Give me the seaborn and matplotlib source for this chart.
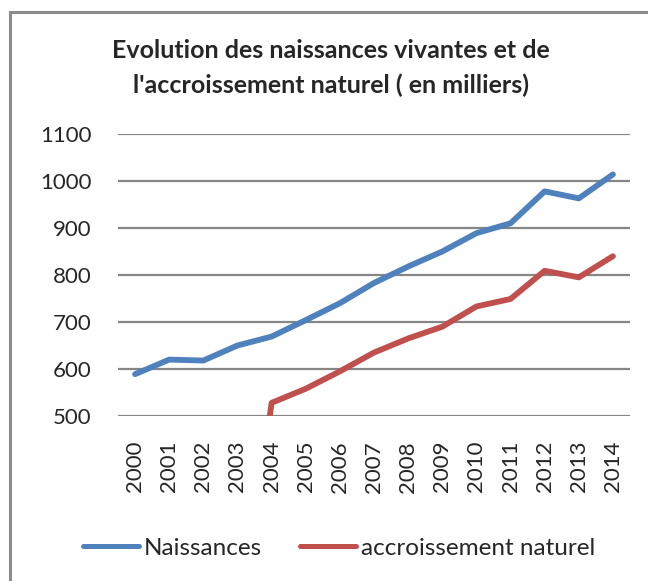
import matplotlib
matplotlib.use("Agg")
import matplotlib.pyplot as plt
import seaborn as sns
import pandas as pd
from matplotlib.patches import Rectangle

years = [str(y) for y in range(2000, 2015)]
naissances = [589, 620, 618, 650, 669, 704, 740, 783, 818, 850, 889, 910, 978, 963, 1014]
accroissement = [0, 0, 0, 0, 528, 558, 595, 635, 665, 690, 733, 749, 809, 795, 840]
series_names = ["Naissances", "accroissement naturel"]
yticks = [500, 600, 700, 800, 900, 1000, 1100]
title = "Evolution des naissances vivantes et de\nl'accroissement naturel ( en milliers)"

df = pd.DataFrame({
    "annee": years * 2,
    "valeur": naissances + accroissement,
    "serie": [series_names[0]] * len(years) + [series_names[1]] * len(years),
})

sns.set_theme(style="white")
plt.rcParams["font.family"] = ["Lato", "DejaVu Sans"]

fig = plt.figure(figsize=(6.48, 5.81), dpi=100)
ax = fig.add_axes([118 / 648, 1 - 416 / 581, 512 / 648, 282 / 581])

sns.lineplot(data=df, x="annee", y="valeur", hue="serie", sort=False,
             palette=["#4F81BD", "#C0504D"], linewidth=4.2, ax=ax, legend=True)

ax.set_ylim(500, 1100)
ax.set_xlim(-0.5, len(years) - 0.5)
ax.set_yticks(yticks)
ax.set_yticklabels([str(v) for v in yticks], fontsize=16)
ax.set_xticks(range(len(years)))
ax.set_xticklabels(years, rotation=90, fontsize=16)
ax.tick_params(axis="x", pad=18, length=0)
ax.tick_params(axis="y", pad=19, length=0)
ax.set_xlabel("")
ax.set_ylabel("")
for s in ax.spines.values():
    s.set_visible(False)
ax.grid(axis="y", color="#868686", linewidth=1.6)
ax.grid(axis="x", visible=False)
for line in ax.get_lines():
    line.set_solid_capstyle("round")

handles, labels = ax.get_legend_handles_labels()
ax.legend_.remove()
leg = fig.legend(handles, labels, loc="center", bbox_to_anchor=(339 / 648, 1 - 548 / 581),
                 ncol=2, frameon=False, fontsize=17.5, handlelength=2.3, handletextpad=0.2,
                 columnspacing=1.55)
for h in leg.get_lines():
    h.set_linewidth(3.6)
    h.set_solid_capstyle("round")

fig.text(331 / 648, 1 - 68 / 581, title, ha="center", va="center",
         fontsize=18, fontweight="bold", linespacing=1.6)

fig.patches.append(Rectangle((10 / 648, -0.05), 1.1, 1 - 12 / 581 + 0.05,
                             transform=fig.transFigure, fill=False,
                             edgecolor="#8c8c8c", linewidth=2.2))

fig.savefig("out.png", dpi=100)
